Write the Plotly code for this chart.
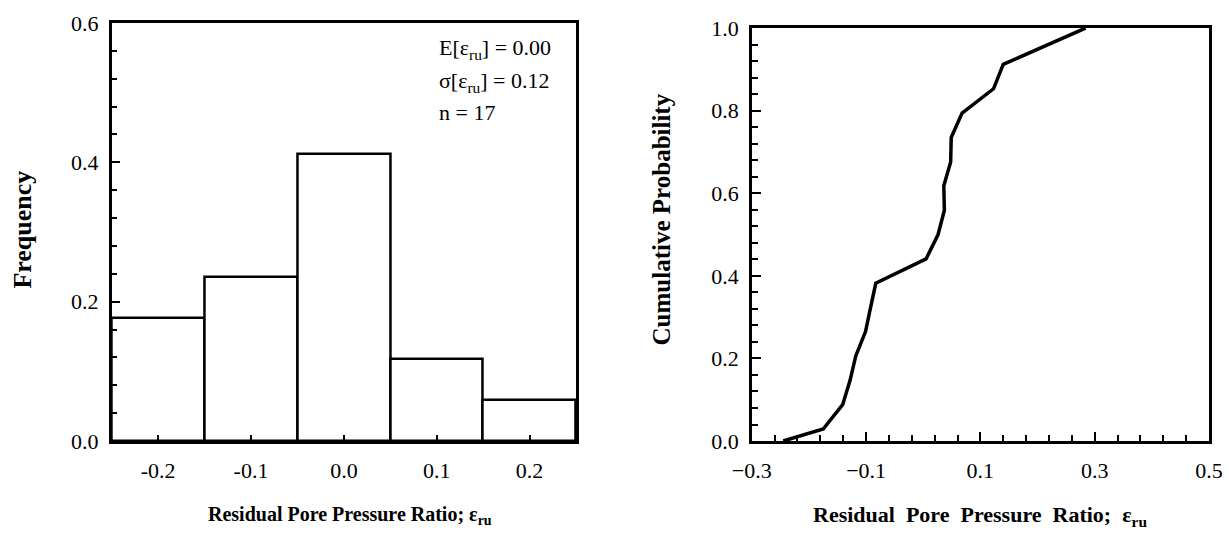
import plotly.graph_objects as go

# ---- data ----
bin_centers = [-0.2, -0.1, 0.0, 0.1, 0.2]
frequency = [3/17, 4/17, 7/17, 2/17, 1/17]

cdf_x = [-0.245, -0.175, -0.141, -0.128, -0.118, -0.101, -0.092, -0.083, 0.005,
         0.026, 0.037, 0.036, 0.048, 0.049, 0.068, 0.123, 0.140, 0.237, 0.284]
cdf_y = [0.0, 0.029, 0.088, 0.147, 0.206, 0.265, 0.324, 0.382, 0.441, 0.500,
         0.559, 0.618, 0.676, 0.735, 0.794, 0.853, 0.912, 0.971, 1.0]

stats_lines = ["E[ε<sub>ru</sub>] = 0.00", "σ[ε<sub>ru</sub>] = 0.12", "n = 17"]
left_xticks = [-0.2, -0.1, 0.0, 0.1, 0.2]

FONT = "Liberation Serif"

fig = go.Figure()
fig.add_trace(go.Bar(x=bin_centers, y=frequency, width=0.1,
                     marker=dict(color="white", line=dict(color="black", width=2.5)),
                     xaxis="x", yaxis="y", showlegend=False))
fig.add_trace(go.Scatter(x=cdf_x, y=cdf_y, mode="lines",
                         line=dict(color="black", width=3.5),
                         xaxis="x2", yaxis="y2", showlegend=False))

axis_common = dict(showline=True, linecolor="black", linewidth=2.5, mirror=True,
                   showgrid=False, zeroline=False, ticks="inside", tickcolor="black",
                   automargin=False,
                   tickfont=dict(family=FONT, size=22, color="black"))

fig.update_layout(
    template="none",
    width=1229, height=540,
    margin=dict(l=0, r=0, t=0, b=0),
    plot_bgcolor="white", paper_bgcolor="white",
    bargap=0,
    xaxis=dict(domain=[0.0909, 0.4687], range=[-0.25, 0.25],
               tickvals=left_xticks, ticktext=[f"{v:.1f}" for v in left_xticks],
               ticklen=6, tickwidth=2, ticklabelstandoff=8, anchor="y", **axis_common),
    yaxis=dict(domain=[0.1833, 0.9574], range=[0, 0.6], tickmode="linear",
               tick0=0, dtick=0.2, tickformat=".1f", ticklen=9, tickwidth=2,
               ticklabelstandoff=6, anchor="x",
               minor=dict(ticks="inside", tick0=0, dtick=0.04, ticklen=6,
                          tickwidth=2, tickcolor="black"),
               **axis_common),
    xaxis2=dict(domain=[0.6117, 0.9837], range=[-0.3, 0.5], tickmode="linear",
                tick0=-0.3, dtick=0.2, tickformat=".1f", ticklen=9, tickwidth=2,
                ticklabelstandoff=8, anchor="y2",
                minor=dict(ticks="inside", tick0=-0.3, dtick=0.04, ticklen=6,
                           tickwidth=2, tickcolor="black"),
                **axis_common),
    yaxis2=dict(domain=[0.1833, 0.948], range=[0, 1.0], tickmode="linear",
                tick0=0, dtick=0.2, tickformat=".1f", ticklen=9, tickwidth=2,
                ticklabelstandoff=6, anchor="x2",
                minor=dict(ticks="inside", tick0=0, dtick=0.04, ticklen=6,
                           tickwidth=2, tickcolor="black"),
                **axis_common),
)

annotations = [
    dict(text="<b>Residual Pore Pressure Ratio; ε<sub>ru</sub></b>", xref="paper", yref="paper",
         x=0.285, y=0.045, xanchor="center", yanchor="middle", showarrow=False,
         font=dict(family=FONT, size=20, color="black")),
    dict(text="<b>Residual&nbsp; Pore&nbsp; Pressure&nbsp; Ratio;&nbsp; ε<sub>ru</sub></b>",
         xref="paper", yref="paper",
         x=0.797, y=0.045, xanchor="center", yanchor="middle", showarrow=False,
         font=dict(family=FONT, size=22, color="black")),
    dict(text="<b>Frequency</b>", xref="paper", yref="paper", textangle=-90,
         x=0.018, y=0.575, xanchor="center", yanchor="middle", showarrow=False,
         font=dict(family=FONT, size=26, color="black")),
    dict(text="<b>Cumulative Probability</b>", xref="paper", yref="paper", textangle=-90,
         x=0.538, y=0.594, xanchor="center", yanchor="middle", showarrow=False,
         font=dict(family=FONT, size=25, color="black")),
]
stat_y = [0.563, 0.516, 0.472]
for txt, yy in zip(stats_lines, stat_y):
    annotations.append(dict(text=txt, xref="x", yref="y", x=0.10, y=yy,
                            xanchor="left", yanchor="middle", showarrow=False,
                            font=dict(family=FONT, size=22, color="black")))
fig.update_layout(annotations=annotations)

fig.write_html("out.html", config={"displayModeBar": False},
               post_script="document.body.style.margin='0px';document.body.style.overflow='hidden';")
